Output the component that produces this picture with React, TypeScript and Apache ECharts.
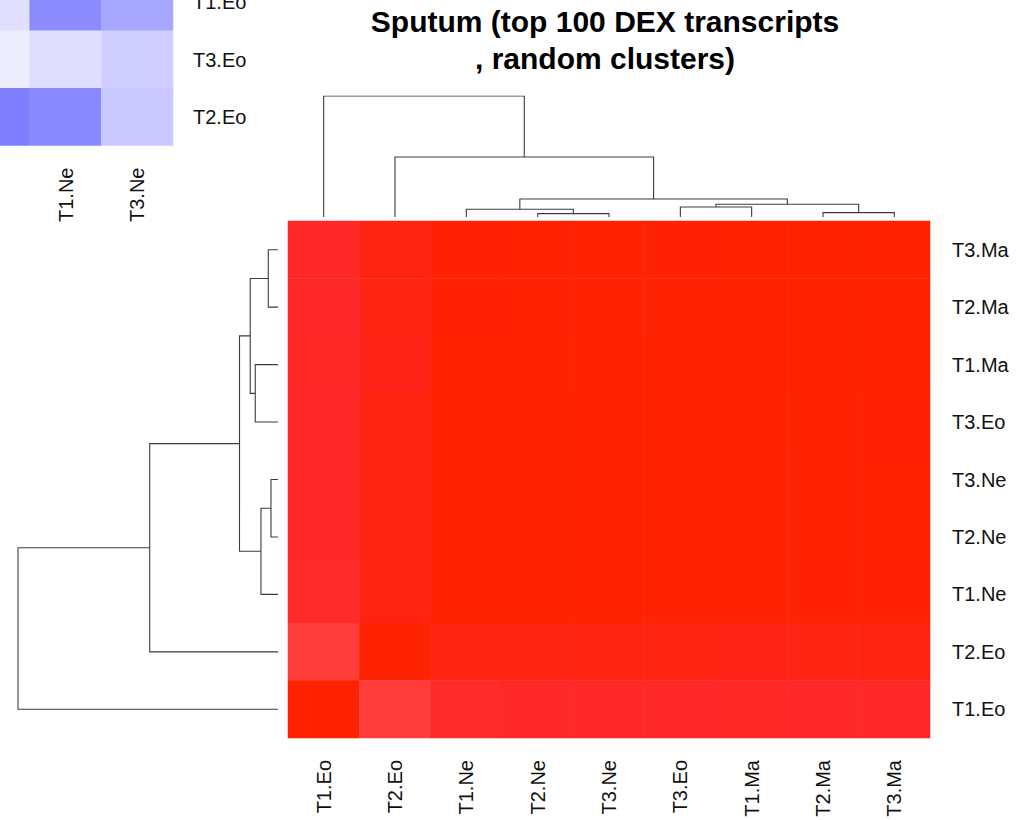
import React, { useEffect, useRef } from 'react';
import * as echarts from 'echarts';

// ---------- data ----------
const titleText = 'Sputum (top 100 DEX transcripts\n, random clusters)';

const colLabels = ['T1.Eo', 'T2.Eo', 'T1.Ne', 'T2.Ne', 'T3.Ne', 'T3.Eo', 'T1.Ma', 'T2.Ma', 'T3.Ma'];
const rowLabels = ['T3.Ma', 'T2.Ma', 'T1.Ma', 'T3.Eo', 'T3.Ne', 'T2.Ne', 'T1.Ne', 'T2.Eo', 'T1.Eo'];

// correlation values, rows top -> bottom, columns left -> right
const rowT3Ma = [0.940, 0.975, 0.995, 0.996, 0.996, 0.995, 0.998, 0.999, 1.0];
const rowT2Ma = [0.940, 0.973, 0.995, 0.996, 0.996, 0.996, 0.998, 1.0, 0.999];
const rowT1Ma = [0.941, 0.968, 0.996, 0.996, 0.997, 0.998, 1.0, 0.998, 0.998];
const rowT3Eo = [0.940, 0.975, 0.996, 0.997, 0.997, 1.0, 0.998, 0.996, 0.995];
const rowT3Ne = [0.939, 0.976, 0.998, 0.999, 1.0, 0.997, 0.997, 0.996, 0.996];
const rowT2Ne = [0.939, 0.976, 0.998, 1.0, 0.999, 0.997, 0.996, 0.996, 0.996];
const rowT1Ne = [0.932, 0.976, 1.0, 0.998, 0.998, 0.996, 0.996, 0.995, 0.995];
const rowT2Eo = [0.880, 1.0, 0.976, 0.976, 0.976, 0.975, 0.968, 0.973, 0.975];
const rowT1Eo = [1.0, 0.880, 0.932, 0.939, 0.939, 0.940, 0.941, 0.940, 0.940];
const corrRows = [rowT3Ma, rowT2Ma, rowT1Ma, rowT3Eo, rowT3Ne, rowT2Ne, rowT1Ne, rowT2Eo, rowT1Eo];

// column dendrogram: merges (labels or 1-based merge refs) and their heights
const colMerges: (string | number)[][] = [
  ['T2.Ne', 'T3.Ne'],
  ['T1.Ne', 1],
  ['T3.Eo', 'T1.Ma'],
  ['T2.Ma', 'T3.Ma'],
  [3, 4],
  [2, 5],
  ['T2.Eo', 6],
  ['T1.Eo', 7],
];
const colHeights = [3.4, 7.7, 10, 4.4, 12.7, 18, 60, 121];

// row dendrogram
const rowMerges: (string | number)[][] = [
  ['T3.Ma', 'T2.Ma'],
  ['T1.Ma', 'T3.Eo'],
  [1, 2],
  ['T3.Ne', 'T2.Ne'],
  [4, 'T1.Ne'],
  [3, 5],
  [6, 'T2.Eo'],
  [7, 'T1.Eo'],
];
const rowHeights = [9.7, 22.7, 27.7, 7, 17, 38.4, 128, 259.4];

// overlapping fragment of another (blue) heatmap in the top-left corner
const blueCols = ['T2.Ne', 'T1.Ne', 'T3.Ne'];
const blueRows = ['T1.Eo', 'T3.Eo', 'T2.Eo'];
const blueRowT1Eo = [-0.08, -0.42, -0.31];
const blueRowT3Eo = [-0.03, -0.087, -0.15];
const blueRowT2Eo = [-0.476, -0.43, -0.18];
const blueMatrix = [blueRowT1Eo, blueRowT3Eo, blueRowT2Eo];

// ---------- helpers ----------
function dendroSegments(labels: string[], merges: (string | number)[][], heights: number[]) {
  const pos: number[] = [];
  const hts: number[] = [];
  const ref = (r: string | number) =>
    typeof r === 'string' ? { p: labels.indexOf(r), h: 0 } : { p: pos[r - 1], h: hts[r - 1] };
  return merges.map((m, i) => {
    const a = ref(m[0]);
    const b = ref(m[1]);
    const h = heights[i];
    pos[i] = (a.p + b.p) / 2;
    hts[i] = h;
    return [
      [a.p, a.h],
      [a.p, h],
      [b.p, h],
      [b.p, b.h],
    ];
  });
}

const FONT = "'Liberation Sans', Arial, Helvetica, sans-serif";

export default function App() {
  const ref = useRef<HTMLDivElement>(null);

  useEffect(() => {
    document.body.style.margin = '0';
    if (!ref.current) return;
    const chart = echarts.init(ref.current, undefined, { renderer: 'svg' });

    const heatData: number[][] = [];
    corrRows.forEach((row, r) => row.forEach((v, c) => heatData.push([c, r, v])));
    const blueData: number[][] = [];
    blueMatrix.forEach((row, r) => row.forEach((v, c) => blueData.push([c, r, v])));

    const colSegs = dendroSegments(colLabels, colMerges, colHeights);
    const rowSegs = dendroSegments(rowLabels, rowMerges, rowHeights).map((seg) =>
      seg.map(([p, h]) => [h, p])
    );

    const labelStyle = { fontSize: 20, fontFamily: FONT, color: '#111' };
    const hiddenAxis = { show: false };
    const gridBase = { outerBoundsMode: 'none', containLabel: false };
    const dendroLine = { color: '#3c3c3c', width: 1.1, opacity: 1 };

    chart.setOption({
      animation: false,
      backgroundColor: '#fff',
      grid: [
        { ...gridBase, left: 288, top: 221, width: 642, height: 517 },
        { ...gridBase, left: 288, top: 96, width: 642, height: 121 },
        { ...gridBase, left: 18, top: 221, width: 260, height: 517 },
        { ...gridBase, left: -42, top: -26.5, width: 215, height: 172 },
      ],
      xAxis: [
        {
          type: 'category', gridIndex: 0, data: colLabels, position: 'bottom',
          axisLine: { show: false }, axisTick: { show: false }, splitLine: { show: false },
          axisLabel: { ...labelStyle, rotate: 90, margin: 22, interval: 0 },
        },
        { type: 'value', gridIndex: 1, min: -0.5, max: 8.5, ...hiddenAxis },
        { type: 'value', gridIndex: 2, min: 0, max: 259.4, inverse: true, ...hiddenAxis },
        {
          type: 'category', gridIndex: 3, data: blueCols, position: 'bottom',
          axisLine: { show: false }, axisTick: { show: false }, splitLine: { show: false },
          // the first column's label lies outside the picture in the reference
          axisLabel: { ...labelStyle, rotate: 90, margin: 22, interval: (i: number) => i > 0 },
        },
      ],
      yAxis: [
        {
          type: 'category', gridIndex: 0, data: rowLabels, inverse: true, position: 'right',
          axisLine: { show: false }, axisTick: { show: false }, splitLine: { show: false },
          axisLabel: { ...labelStyle, margin: 22, interval: 0 },
        },
        { type: 'value', gridIndex: 1, min: 0, max: 121, ...hiddenAxis },
        { type: 'value', gridIndex: 2, min: -0.5, max: 8.5, inverse: true, ...hiddenAxis },
        {
          type: 'category', gridIndex: 3, data: blueRows, inverse: true, position: 'right',
          axisLine: { show: false }, axisTick: { show: false }, splitLine: { show: false },
          axisLabel: { ...labelStyle, margin: 20, interval: 0 },
        },
      ],
      visualMap: [
        {
          type: 'continuous', show: false, seriesIndex: 0, min: 0.88, max: 1.0,
          inRange: { color: ['#FF3C3C', '#FF3232', '#FF2828', '#FF2416', '#FF2200'] },
        },
        {
          type: 'continuous', show: false, seriesIndex: 3, min: -0.5, max: 0,
          inRange: { color: ['#7878FF', '#F6F4FF'] },
        },
      ],
      graphic: [
        {
          type: 'text', x: 605, y: 3, silent: true,
          style: {
            text: titleText, textAlign: 'center', textVerticalAlign: 'top',
            fontSize: 30, fontWeight: 'bold', fontFamily: FONT, fill: '#000', lineHeight: 37,
          },
        },
      ],
      series: [
        {
          type: 'heatmap', xAxisIndex: 0, yAxisIndex: 0, data: heatData,
          itemStyle: { borderWidth: 0 }, emphasis: { disabled: true },
        },
        {
          type: 'lines', coordinateSystem: 'cartesian2d', xAxisIndex: 1, yAxisIndex: 1,
          polyline: true, silent: true, data: colSegs.map((c) => ({ coords: c })),
          lineStyle: dendroLine,
        },
        {
          type: 'lines', coordinateSystem: 'cartesian2d', xAxisIndex: 2, yAxisIndex: 2,
          polyline: true, silent: true, data: rowSegs.map((c) => ({ coords: c })),
          lineStyle: dendroLine,
        },
        {
          type: 'heatmap', xAxisIndex: 3, yAxisIndex: 3, data: blueData,
          itemStyle: { borderWidth: 0 }, emphasis: { disabled: true },
        },
      ],
    });

    return () => chart.dispose();
  }, []);

  return <div ref={ref} style={{ width: 1032, height: 820 }} />;
}
